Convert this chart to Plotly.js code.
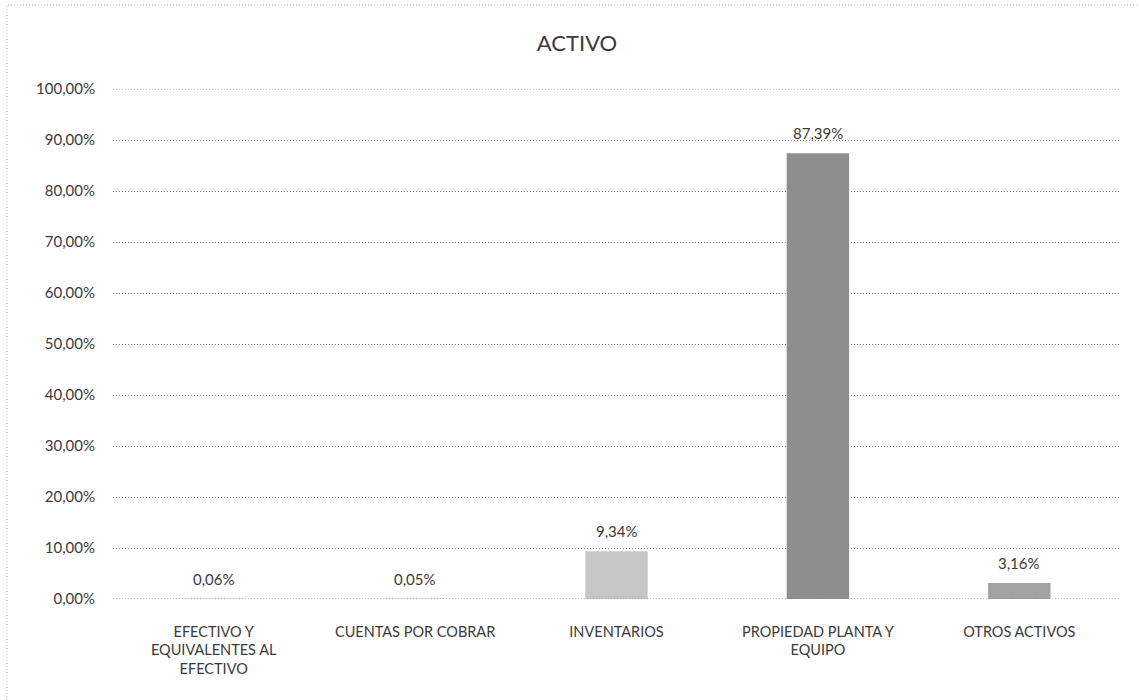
<!DOCTYPE html>
<html>
<head>
<meta charset="utf-8">
<script src="https://cdn.plot.ly/plotly-3.0.1.min.js"></script>
<style>html,body{margin:0;padding:0;background:#fff;}#chart{width:1139px;height:700px;}</style>
</head>
<body>
<div id="chart"></div>
<script>
const categories = [
  "EFECTIVO Y<br>EQUIVALENTES AL<br>EFECTIVO",
  "CUENTAS POR COBRAR",
  "INVENTARIOS",
  "PROPIEDAD PLANTA Y<br>EQUIPO",
  "OTROS ACTIVOS"
];
const values = [0.06, 0.05, 9.34, 87.39, 3.16];
const chartTitle = "ACTIVO";

const barColors = ["#a0a0a0", "#a0a0a0", "#c6c6c6", "#8e8e8e", "#a2a2a2"];
const fontFam = "Lato, 'Open Sans', sans-serif";
const txtColor = "#3a3a3a";
const gridDash = "1px,2px";

const trace = {
  type: "bar",
  x: categories,
  y: values,
  width: 0.31,
  marker: { color: barColors, line: { width: 0 } },
  hoverinfo: "skip"
};

const fmt = v => v.toFixed(2).replace(".", ",") + "%";
const labelAnn = categories.map((c, i) => ({
  x: c, y: values[i], xref: "x", yref: "y",
  text: fmt(values[i]), showarrow: false,
  yanchor: "bottom", yshift: 9,
  font: { family: fontFam, size: 15, color: txtColor }
}));

const layout = {
  width: 1139,
  height: 700,
  separators: ",.",
  paper_bgcolor: "#fff",
  plot_bgcolor: "#fff",
  margin: { l: 113, r: 19, t: 89, b: 101 },
  showlegend: false,
  title: {
    text: chartTitle,
    font: { family: fontFam, size: 22, color: txtColor },
    xref: "container", x: 577 / 1139, xanchor: "center",
    yref: "container", y: 1 - 43 / 700, yanchor: "middle"
  },
  xaxis: {
    type: "category",
    showgrid: false,
    showline: false,
    zeroline: false,
    ticks: "",
    tickangle: 0,
    ticklabelstandoff: 22,
    tickfont: { family: fontFam, size: 14.5, color: txtColor },
    automargin: false
  },
  yaxis: {
    range: [0, 100],
    dtick: 10,
    tick0: 0,
    tickformat: ".2f",
    ticksuffix: "%",
    showgrid: true,
    gridcolor: "#7a7a7a",
    griddash: gridDash,
    gridwidth: 1,
    zeroline: false,
    showline: false,
    ticks: "",
    ticklabelstandoff: 17,
    tickfont: { family: fontFam, size: 15, color: txtColor },
    automargin: false
  },
  annotations: labelAnn,
  shapes: [
    { type: "line", xref: "paper", yref: "y", x0: 0, x1: 1, y0: 0, y1: 0,
      line: { color: "#7a7a7a", width: 1, dash: gridDash } },
    { type: "line", xref: "paper", yref: "y", x0: 0, x1: 1, y0: 100, y1: 100,
      line: { color: "#7a7a7a", width: 1, dash: gridDash } },
    { type: "rect", xref: "paper", yref: "paper", x0: -0.1053, x1: 1.0248, y0: -0.2176, y1: 1.1647,
      line: { color: "#b5b5b5", width: 1, dash: gridDash } }
  ]
};

Plotly.newPlot("chart", [trace], layout, { displayModeBar: false, staticPlot: true });
</script>
</body>
</html>
